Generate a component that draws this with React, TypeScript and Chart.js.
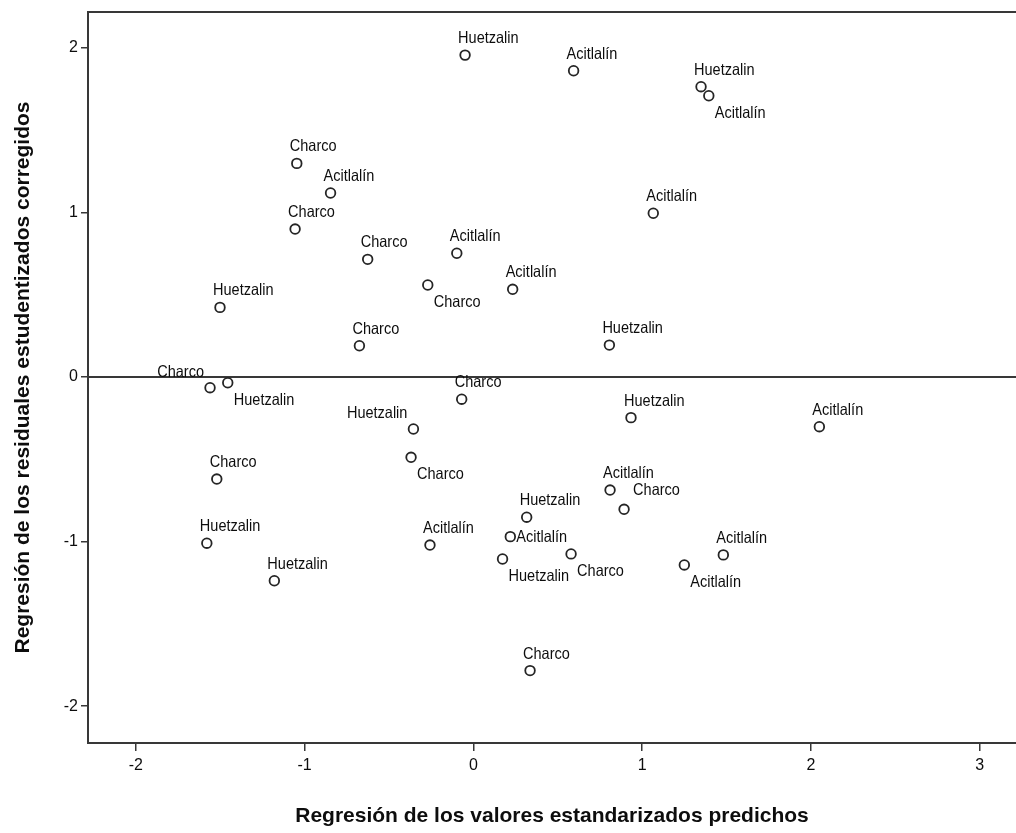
import { useEffect, useRef } from "react";
import { Chart, registerables } from "chart.js";

Chart.register(...registerables);

// Residual plot: standardized predicted values vs. studentized deleted residuals,
// each case tagged with its site name.
const groups = [
  "Huetzalin", "Acitlalín", "Huetzalin", "Acitlalín", "Charco", "Acitlalín", "Charco",
  "Acitlalín", "Charco", "Acitlalín", "Charco", "Acitlalín", "Huetzalin", "Charco",
  "Huetzalin", "Charco", "Huetzalin", "Charco", "Huetzalin", "Huetzalin", "Acitlalín",
  "Charco", "Charco", "Acitlalín", "Charco", "Huetzalin", "Acitlalín", "Acitlalín",
  "Huetzalin", "Huetzalin", "Charco", "Huetzalin", "Acitlalín", "Acitlalín", "Charco",
];

const predicted = [
  -0.049, 0.594, 1.349, 1.395, -1.046, -0.846, -1.056,
  1.066, -0.626, -0.098, -0.27, 0.233, -1.501, -0.675,
  0.806, -1.56, -1.455, -0.069, -0.355, 0.934, 2.05,
  -0.369, -1.52, 0.81, 0.893, 0.316, 0.219, -0.257,
  -1.579, 0.173, 0.579, -1.179, 1.25, 1.481, 0.336,
];

const residuals = [
  1.956, 1.861, 1.764, 1.709, 1.298, 1.118, 0.899,
  0.995, 0.715, 0.752, 0.559, 0.533, 0.423, 0.19,
  0.194, -0.065, -0.035, -0.135, -0.316, -0.247, -0.302,
  -0.488, -0.62, -0.687, -0.804, -0.852, -0.97, -1.021,
  -1.01, -1.106, -1.075, -1.238, -1.142, -1.081, -1.784,
];

// Where each case name sits relative to its marker
const labelAnchor = [
  "n", "n", "n", "se", "n", "n", "n",
  "n", "n", "n", "se", "n", "n", "n",
  "n", "nw", "se", "n", "nw", "n", "n",
  "se", "n", "n", "ne", "n", "e", "n",
  "n", "se", "se", "n", "se", "n", "n",
];

const xTicks = [-2, -1, 0, 1, 2, 3];
const yTicks = [-2, -1, 0, 1, 2];
const xRange = [-2.283, 3.215];
const yRange = [-2.224, 2.218];

const xTitle = "Regresión de los valores estandarizados predichos";
const yTitle = "Regresión de los residuales estudentizados corregidos";

const FONT = "'Liberation Sans', Arial, sans-serif";
const INK = "#0d0d0d";
const LINE = "#383838";

const ANCHORS: Record<string, { dx: number; dy: number; align: CanvasTextAlign }> = {
  n: { dx: -7, dy: -12, align: "left" },
  se: { dx: 6, dy: 22, align: "left" },
  nw: { dx: -6, dy: -11, align: "right" },
  e: { dx: 6, dy: 5, align: "left" },
  ne: { dx: 9, dy: -14, align: "left" },
};

const framePlugin = {
  id: "frameLines",
  beforeDatasetsDraw(chart: any) {
    const { ctx, chartArea, scales } = chart;
    ctx.save();
    ctx.strokeStyle = LINE;
    ctx.lineWidth = 2;
    ctx.beginPath();
    ctx.moveTo(chartArea.left, chartArea.top);
    ctx.lineTo(chartArea.right, chartArea.top);
    const y0 = scales.y.getPixelForValue(0);
    ctx.moveTo(chartArea.left, y0);
    ctx.lineTo(chartArea.right, y0);
    ctx.stroke();
    ctx.restore();
  },
};

const pointLabelPlugin = {
  id: "caseLabels",
  afterDatasetsDraw(chart: any) {
    const { ctx } = chart;
    const meta = chart.getDatasetMeta(0);
    ctx.save();
    ctx.font = `16.5px ${FONT}`;
    ctx.fillStyle = INK;
    ctx.textBaseline = "alphabetic";
    meta.data.forEach((el: any, i: number) => {
      const a = ANCHORS[labelAnchor[i]];
      ctx.save();
      ctx.translate(el.x + a.dx, el.y + a.dy);
      ctx.scale(0.88, 1);
      ctx.textAlign = a.align;
      ctx.fillText(groups[i], 0, 0);
      ctx.restore();
    });
    ctx.restore();
  },
};

const axisTitlePlugin = {
  id: "axisTitles",
  afterDraw(chart: any) {
    const { ctx, chartArea } = chart;
    ctx.save();
    ctx.font = `bold 21px ${FONT}`;
    ctx.fillStyle = INK;
    ctx.textAlign = "center";
    ctx.textBaseline = "middle";
    ctx.fillText(xTitle, (chartArea.left + chartArea.right) / 2, chartArea.bottom + 73);
    ctx.translate(23, (chartArea.top + chartArea.bottom) / 2);
    ctx.rotate(-Math.PI / 2);
    ctx.fillText(yTitle, 0, 0);
    ctx.restore();
  },
};

export default function App() {
  const canvasRef = useRef<HTMLCanvasElement | null>(null);

  useEffect(() => {
    const canvas = canvasRef.current;
    if (!canvas) return;
    const chart = new Chart(canvas, {
      type: "scatter",
      data: {
        datasets: [
          {
            data: predicted.map((x, i) => ({ x, y: residuals[i] })),
            pointStyle: "circle",
            pointRadius: 4.8,
            pointBorderWidth: 1.8,
            pointBorderColor: "#252525",
            pointBackgroundColor: "rgba(255,255,255,0)",
          },
        ],
      },
      options: {
        responsive: false,
        animation: false,
        devicePixelRatio: 1,
        events: [],
        layout: {
          autoPadding: false,
          padding: { top: 12, left: 0, right: 0, bottom: 0 },
        },
        plugins: {
          legend: { display: false },
          tooltip: { enabled: false },
        },
        scales: {
          x: {
            type: "linear",
            min: xRange[0],
            max: xRange[1],
            afterBuildTicks: (scale: any) => {
              scale.ticks = xTicks.map((v) => ({ value: v }));
            },
            afterFit: (scale: any) => {
              scale.height = 90;
              scale.paddingLeft = 0;
              scale.paddingRight = 0;
            },
            grid: {
              drawOnChartArea: false,
              drawTicks: true,
              tickLength: 8,
              color: LINE,
              lineWidth: 1.5,
            },
            border: { display: true, color: LINE, width: 2 },
            ticks: {
              color: INK,
              font: { family: FONT, size: 16 },
              padding: 5,
              maxRotation: 0,
              callback: (v: any) => String(v),
            },
          },
          y: {
            type: "linear",
            min: yRange[0],
            max: yRange[1],
            afterBuildTicks: (scale: any) => {
              scale.ticks = yTicks.map((v) => ({ value: v }));
            },
            afterFit: (scale: any) => {
              scale.width = 88;
              scale.paddingTop = 0;
              scale.paddingBottom = 0;
            },
            grid: {
              drawOnChartArea: false,
              drawTicks: true,
              tickLength: 7,
              color: LINE,
              lineWidth: 1.5,
            },
            border: { display: true, color: LINE, width: 2 },
            ticks: {
              color: INK,
              font: { family: FONT, size: 16 },
              padding: 3,
              callback: (v: any) => String(v),
            },
          },
        },
      },
      plugins: [framePlugin, pointLabelPlugin, axisTitlePlugin],
    });
    return () => chart.destroy();
  }, []);

  return (
    <div
      style={{
        position: "absolute",
        left: 0,
        top: 0,
        width: 1016,
        height: 833,
        background: "#ffffff",
      }}
    >
      <canvas ref={canvasRef} width={1016} height={833} style={{ display: "block" }} />
    </div>
  );
}
